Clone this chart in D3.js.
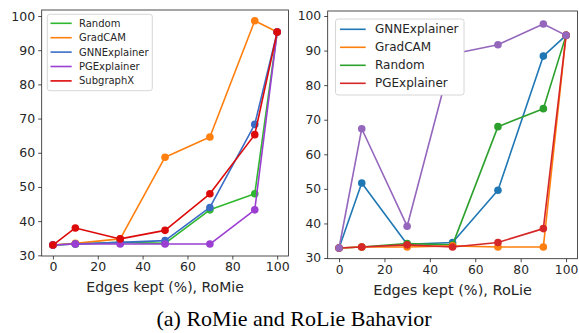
<!DOCTYPE html>
<html>
<head>
<meta charset="utf-8">
<script src="https://cdn.jsdelivr.net/npm/d3@7"></script>
<style>
  body { margin: 0; background: #fff; }
  svg { display: block; font-family: "DejaVu Sans", sans-serif; }
</style>
</head>
<body>
<svg id="chart" width="579" height="333"></svg>
<script>
// edges kept (%)
const edgesKept = [0, 10, 30, 50, 70, 90, 100];
const xTicks = [0, 20, 40, 60, 80, 100];
const yTicks = [30, 40, 50, 60, 70, 80, 90, 100];

// RoMie (left)
const romieRandom = [33, 33.3, 33.8, 33.5, 43.3, 48, 95.3];
const romieGradCAM = [33, 33.5, 34.8, 58.7, 64.6, 98.6, 95.3];
const romieGNNExplainer = [33, 33.3, 33.8, 34.3, 44, 68.3, 95.3];
const romiePGExplainer = [33, 33.3, 33.3, 33.3, 33.3, 43.3, 95.3];
const romieSubgraphX = [33, 38, 34.8, 37.3, 48, 65.3, 95.3];

// RoLie (right)
const rolieGNNExplainer = [32.9, 51.7, 34, 34.5, 49.6, 88.4, 94.4];
const rolieGradCAM = [32.9, 33.2, 33.2, 33.5, 33.2, 33.2, 94.4];
const rolieRandom = [32.9, 33.2, 34.2, 33.8, 68, 73.2, 94.4];
const roliePGExplainer = [32.9, 33.2, 33.8, 33.2, 34.5, 38.5, 94.4];
const rolieOther = [32.9, 67.4, 39.2, 89, 91.7, 97.7, 94.4]; // purple, not in legend

const svg = d3.select('#chart');
const textColor = '#262626';

function drawPanel(p) {
  const x = d3.scaleLinear().domain([-5, 105]).range([p.left, p.right]);
  const y = d3.scaleLinear().domain(p.yDomain).range([p.bottom, p.top]);

  const g = svg.append('g');

  // series, first ones underneath
  const line = d3.line().x((d) => x(d[0])).y((d) => y(d[1]));
  for (const s of p.series) {
    const pts = edgesKept.map((e, i) => [e, s.values[i]]);
    const sg = g.append('g');
    sg.append('path')
        .attr('d', line(pts))
        .attr('fill', 'none')
        .attr('stroke', s.color)
        .attr('stroke-width', 1.6)
        .attr('stroke-linejoin', 'round');
    sg.selectAll('circle').data(pts).enter()
        .append('circle')
        .attr('cx', (d) => x(d[0]))
        .attr('cy', (d) => y(d[1]))
        .attr('r', 3.8)
        .attr('fill', s.color);
  }

  // axes
  g.append('g')
      .attr('transform', 'translate(0,' + p.bottom + ')')
      .call(d3.axisBottom(x).tickValues(xTicks).tickSize(3.5).tickPadding(3))
      .call((a) => a.select('.domain').remove())
      .selectAll('text').attr('font-size', p.tickFont).attr('fill', textColor)
      .attr('font-family', 'DejaVu Sans');
  g.append('g')
      .attr('transform', 'translate(' + p.left + ',0)')
      .call(d3.axisLeft(y).tickValues(yTicks).tickSize(3.5).tickPadding(3))
      .call((a) => a.select('.domain').remove())
      .selectAll('text').attr('font-size', p.tickFont).attr('fill', textColor)
      .attr('font-family', 'DejaVu Sans');
  g.selectAll('.tick line').attr('stroke', '#222').attr('stroke-width', 0.8);

  g.append('rect')
      .attr('x', p.left).attr('y', p.top)
      .attr('width', p.right - p.left).attr('height', p.bottom - p.top)
      .attr('fill', 'none').attr('stroke', '#222').attr('stroke-width', 0.8);

  g.append('text')
      .attr('x', (p.left + p.right) / 2)
      .attr('y', p.labelY)
      .attr('text-anchor', 'middle')
      .attr('dominant-baseline', 'central')
      .attr('font-size', p.labelFont)
      .attr('fill', textColor)
      .text(p.label);

  // legend
  const lg = p.legend;
  const leg = g.append('g');
  leg.append('rect')
      .attr('x', lg.x).attr('y', lg.y)
      .attr('width', lg.w).attr('height', lg.h)
      .attr('rx', 2.5)
      .attr('fill', 'white')
      .attr('stroke', '#cccccc').attr('stroke-width', 0.8);
  const items = p.series.filter((s) => s.name);
  const order = lg.order.map((n) => items.find((s) => s.name == n));
  order.forEach((s, i) => {
    const yy = lg.firstY + i * lg.step;
    leg.append('line')
        .attr('x1', lg.hx1).attr('x2', lg.hx2)
        .attr('y1', yy).attr('y2', yy)
        .attr('stroke', s.color).attr('stroke-width', 1.6);
    leg.append('text')
        .attr('x', lg.tx).attr('y', yy)
        .attr('dominant-baseline', 'central')
        .attr('font-size', lg.font)
        .attr('fill', textColor)
        .text(s.name);
  });
}

drawPanel({
  left: 41.7, right: 288.4, top: 10, bottom: 256,
  yDomain: [29.8, 101.76],
  tickFont: 12.5, labelFont: 14, labelY: 286.5,
  label: 'Edges kept (%), RoMie',
  series: [
    {name: 'Random', color: '#2fb82f', values: romieRandom},
    {name: 'GradCAM', color: '#ff7f0e', values: romieGradCAM},
    {name: 'GNNExplainer', color: '#3a6cc6', values: romieGNNExplainer},
    {name: 'PGExplainer', color: '#9b3fd2', values: romiePGExplainer},
    {name: 'SubgraphX', color: '#dd0a0a', values: romieSubgraphX},
  ],
  legend: {
    x: 47.3, y: 14.3, w: 105, h: 76.4,
    firstY: 23.3, step: 14.4, hx1: 50.5, hx2: 71.7, tx: 79, font: 10,
    order: ['Random', 'GradCAM', 'GNNExplainer', 'PGExplainer', 'SubgraphX'],
  },
});

drawPanel({
  left: 327.7, right: 577.4, top: 11, bottom: 258.7,
  yDomain: [29.8, 101.45],
  tickFont: 12.3, labelFont: 14.5, labelY: 290,
  label: 'Edges kept (%), RoLie',
  series: [
    {name: 'GNNExplainer', color: '#1f77b4', values: rolieGNNExplainer},
    {name: 'Random', color: '#2ca02c', values: rolieRandom},
    {name: 'GradCAM', color: '#ff7f0e', values: rolieGradCAM},
    {name: 'PGExplainer', color: '#d62728', values: roliePGExplainer},
    {name: null, color: '#9467bd', values: rolieOther},
  ],
  legend: {
    x: 335.5, y: 19, w: 128.5, h: 76,
    firstY: 29.3, step: 18, hx1: 340, hx2: 365.7, tx: 375, font: 12,
    order: ['GNNExplainer', 'GradCAM', 'Random', 'PGExplainer'],
  },
});

// caption
svg.append('text')
    .attr('x', 294)
    .attr('y', 326)
    .attr('text-anchor', 'middle')
    .attr('font-family', '"Liberation Serif", "Times New Roman", serif')
    .attr('font-size', 22)
    .attr('fill', '#000')
    .text('(a) RoMie and RoLie Bahavior');
</script>
</body>
</html>
